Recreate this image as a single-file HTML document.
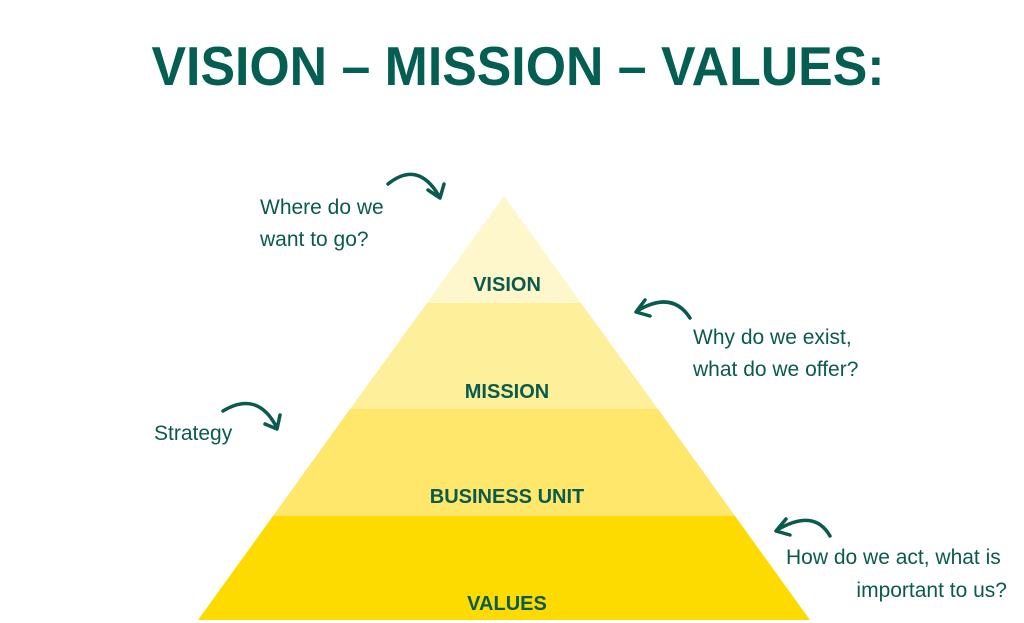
<!DOCTYPE html>
<html><head><meta charset="utf-8"><style>
html,body{margin:0;padding:0;background:#fff;}
svg{display:block;}
</style></head><body>
<svg width="1024" height="623" viewBox="0 0 1024 623" xmlns="http://www.w3.org/2000/svg">
<text x="518" y="85" text-anchor="middle" font-family="Liberation Sans, sans-serif" font-weight="bold" font-size="55" fill="#045E52" textLength="733" lengthAdjust="spacingAndGlyphs">VISION – MISSION – VALUES:</text>
<polygon points="504,196 581,303 427,303" fill="#FEF7CB"/>
<polygon points="427,303 581,303 658,409 350,409" fill="#FEF09A"/>
<polygon points="350,409 658,409 735,516 273,516" fill="#FEE76B"/>
<polygon points="273,516 735,516 810,620 198,620" fill="#FDDA00"/>
<g font-family="Liberation Sans, sans-serif" font-weight="bold" font-size="20" fill="#0B5A4E" text-anchor="middle">
<text x="507" y="291">VISION</text>
<text x="507" y="398">MISSION</text>
<text x="507" y="503">BUSINESS UNIT</text>
<text x="507" y="610">VALUES</text>
</g>
<g font-family="Liberation Sans, sans-serif" font-size="21" fill="#0B5A4E">
<text x="260" y="214">Where do we</text>
<text x="260" y="246">want to go?</text>
<text x="693" y="344">Why do we exist,</text>
<text x="693" y="376">what do we offer?</text>
<text x="154" y="440">Strategy</text>
<text x="786" y="564">How do we act, what is</text>
<text x="1007" y="597" text-anchor="end">important to us?</text>
</g>
<g fill="none" stroke="#0B5A4E" stroke-width="3.5" stroke-linecap="round" stroke-linejoin="round">
<path d="M388,184 Q418,160 439,196"/><path d="M428,190 L440,198 L444,184"/>
<path d="M690,318 Q672,290 637,311"/><path d="M645,300 L636,312 L650,316"/>
<path d="M223,411 Q258,390 277,428"/><path d="M265,424 L277,429 L280,415"/>
<path d="M830,536 Q814,508 777,530"/><path d="M786,519 L776,531 L790,535"/>
</g>
</svg>
</body></html>
